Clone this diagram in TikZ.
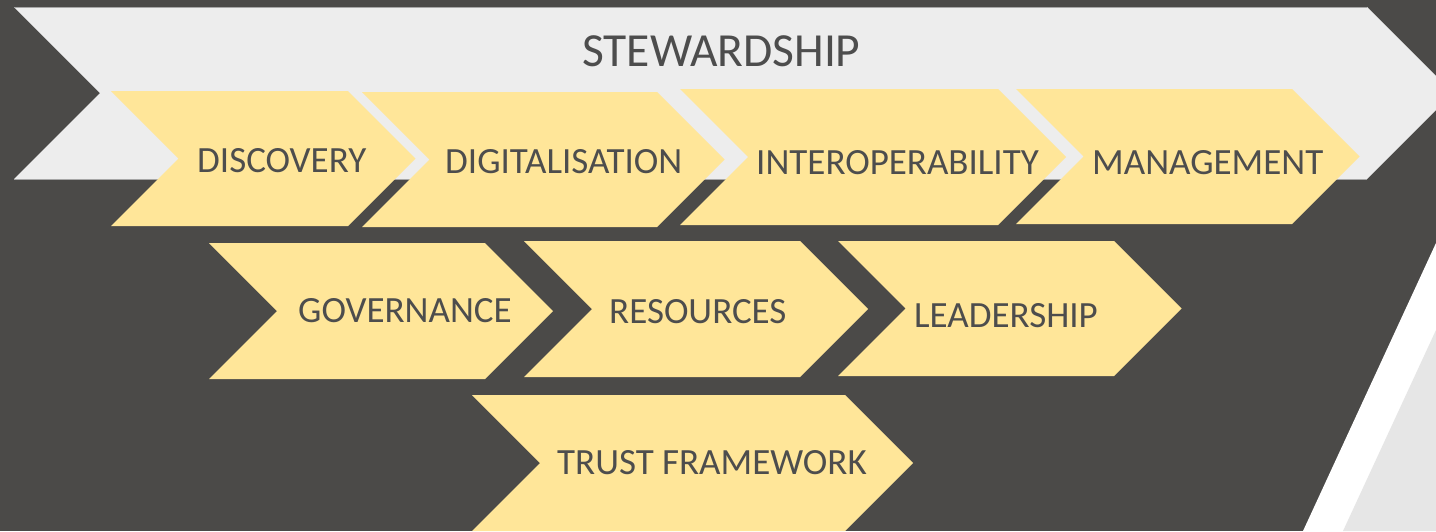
\documentclass[tikz,border=0pt]{standalone}
\usepackage{fontspec}
\setmainfont{Carlito}
\definecolor{bgdark}{HTML}{4B4A48}
\definecolor{lightgrey}{HTML}{EDEDED}
\definecolor{paleyellow}{HTML}{FFE699}
\definecolor{textgrey}{HTML}{4D4D4D}
\definecolor{sheen}{HTML}{E6E6E6}
\newcommand{\chevshape}[5]{% name, L, R, T, B
  \fill[#1] (#2,#4) -- (#3,#4) -- ({#3+(#5-#4)/2},{(#4+#5)/2}) -- (#3,#5) -- (#2,#5) -- ({#2+(#5-#4)/2},{(#4+#5)/2}) -- cycle;}
\tikzset{
  lbl/.style={anchor=base west, inner sep=0pt, text=textgrey, font=\fontsize{37}{44}\selectfont},
  biglbl/.style={anchor=base west, inner sep=0pt, text=textgrey, font=\fontsize{47.5}{57}\selectfont},
  yel/.style={fill=paleyellow},
  grey/.style={fill=lightgrey}
}
\begin{document}
\begin{tikzpicture}[x=1pt,y=-1pt]
\useasboundingbox (0,0) rectangle (1436,531);
\clip (0,0) rectangle (1436,531);
\fill[bgdark] (0,0) rectangle (1436,531);
% white diagonal stripe and sheen at bottom right
\fill[white] (1436,243) -- (1303,531) -- (1436,531) -- cycle;
\fill[sheen] (1436,330) -- (1343,531) -- (1436,531) -- cycle;
% stewardship chevron
\chevshape{grey}{14}{1367}{7}{179}
\draw[gray!70, line width=0.8pt] (14,7) -- (1367,7);
\draw[gray!70, line width=0.8pt] (14,179) -- (1367,179);
\node[biglbl] (stew) at (582,66) {STEWARDSHIP};
% row 1
\chevshape{yel}{111}{348}{91}{226}
\chevshape{yel}{362}{657}{92}{227}
\chevshape{yel}{680}{998}{89}{225}
\chevshape{yel}{1016}{1292}{89}{224}
\node[lbl] (disc) at (197,172) {DISCOVERY};
\node[lbl] (digi) at (445,173) {DIGITALISATION};
\node[lbl] (inter) at (756,174) {INTEROPERABILITY};
\node[lbl] (mgmt) at (1092,174) {MANAGEMENT};
% row 2
\chevshape{yel}{209}{485}{243}{379}
\chevshape{yel}{524}{800}{241}{377}
\chevshape{yel}{838}{1114}{241}{376}
\node[lbl] (gov) at (298,322) {GOVERNANCE};
\node[lbl] (res) at (609,323) {RESOURCES};
\node[lbl] (lead) at (914,327) {LEADERSHIP};
% row 3
\chevshape{yel}{472}{845}{395}{531}
\node[lbl] (trust) at (557,474) {TRUST FRAMEWORK};
\end{tikzpicture}
\end{document}
